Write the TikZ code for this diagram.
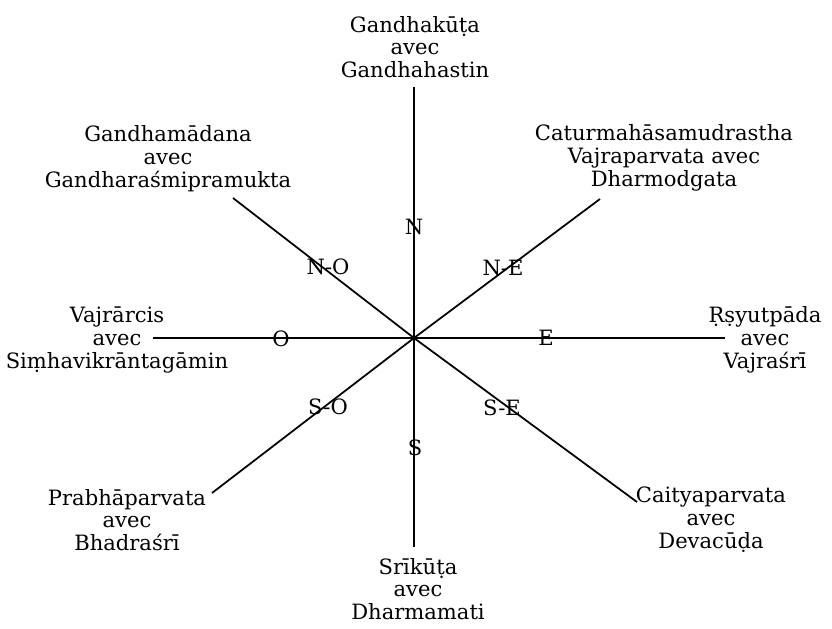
\documentclass[tikz,border=0pt]{standalone}
\usepackage{fontspec}
\setmainfont{DejaVu Serif}
\usetikzlibrary{calc}

\tikzset{
    peak/.style={align=center, inner sep=0pt},
    point/.style={inner sep=0pt},
    ray/.style={line width=1pt}
}

\begin{document}
\begin{tikzpicture}[x=0.02cm, y=-0.02cm, font=\fontsize{12}{13}\selectfont]

    % ==========================================
    % FRAME & COORDINATES
    % ==========================================

    \useasboundingbox (0,0) rectangle (832,629);

    % Centre of the rose
    \coordinate (C) at (414, 338);

    % Outer ends of the eight rays
    \coordinate (N_end)  at (414, 87);
    \coordinate (S_end)  at (414, 547);
    \coordinate (O_end)  at (153, 338);
    \coordinate (E_end)  at (725, 338);
    \coordinate (NO_end) at (233, 198);
    \coordinate (NE_end) at (600, 199);
    \coordinate (SO_end) at (212, 493);
    \coordinate (SE_end) at (637, 502);

    % ==========================================
    % DRAW THE RAYS
    % ==========================================

    \draw[ray] (C) -- (N_end);
    \draw[ray] (C) -- (S_end);
    \draw[ray] (C) -- (O_end);
    \draw[ray] (C) -- (E_end);
    \draw[ray] (C) -- (NO_end);
    \draw[ray] (C) -- (NE_end);
    \draw[ray] (C) -- (SO_end);
    \draw[ray] (C) -- (SE_end);

    % ==========================================
    % DIRECTION LETTERS (set over the rays)
    % ==========================================

    \node[point] (dN)  at (414, 227) {N};
    \node[point] (dNO) at (328, 267) {N-O};
    \node[point] (dNE) at (503, 268) {N-E};
    \node[point] (dO)  at (281, 339) {O};
    \node[point] (dE)  at (546, 338) {E};
    \node[point] (dSO) at (328, 407) {S-O};
    \node[point] (dSE) at (502, 408) {S-E};
    \node[point] (dS)  at (415, 448) {S};

    % ==========================================
    % MOUNTAINS AND THEIR BODHISATTVAS
    % ==========================================

    \node[peak] (mN)  at (415, 47)  {Gandhakūṭa\\avec\\Gandhahastin};
    \node[peak] (mNO) at (168, 159) {Gandhamādana\\avec\\Gandharaśmipramukta};
    \node[peak] (mNE) at (664, 158) {Caturmahāsamudrastha\\Vajraparvata avec\\Dharmodgata};
    \node[peak] (mO)  at (117, 340) {Vajrārcis\\avec\\Siṃhavikrāntagāmin};
    \node[peak] (mE)  at (765, 340) {Ṛṣyutpāda\\avec\\Vajraśrī};
    \node[peak] (mSO) at (127, 520) {Prabhāparvata\\avec\\Bhadraśrī};
    \node[peak] (mSE) at (711, 520) {Caityaparvata\\avec\\Devacūḍa};
    \node[peak] (mS)  at (418, 589) {Srīkūṭa\\avec\\Dharmamati};

\end{tikzpicture}
\end{document}
